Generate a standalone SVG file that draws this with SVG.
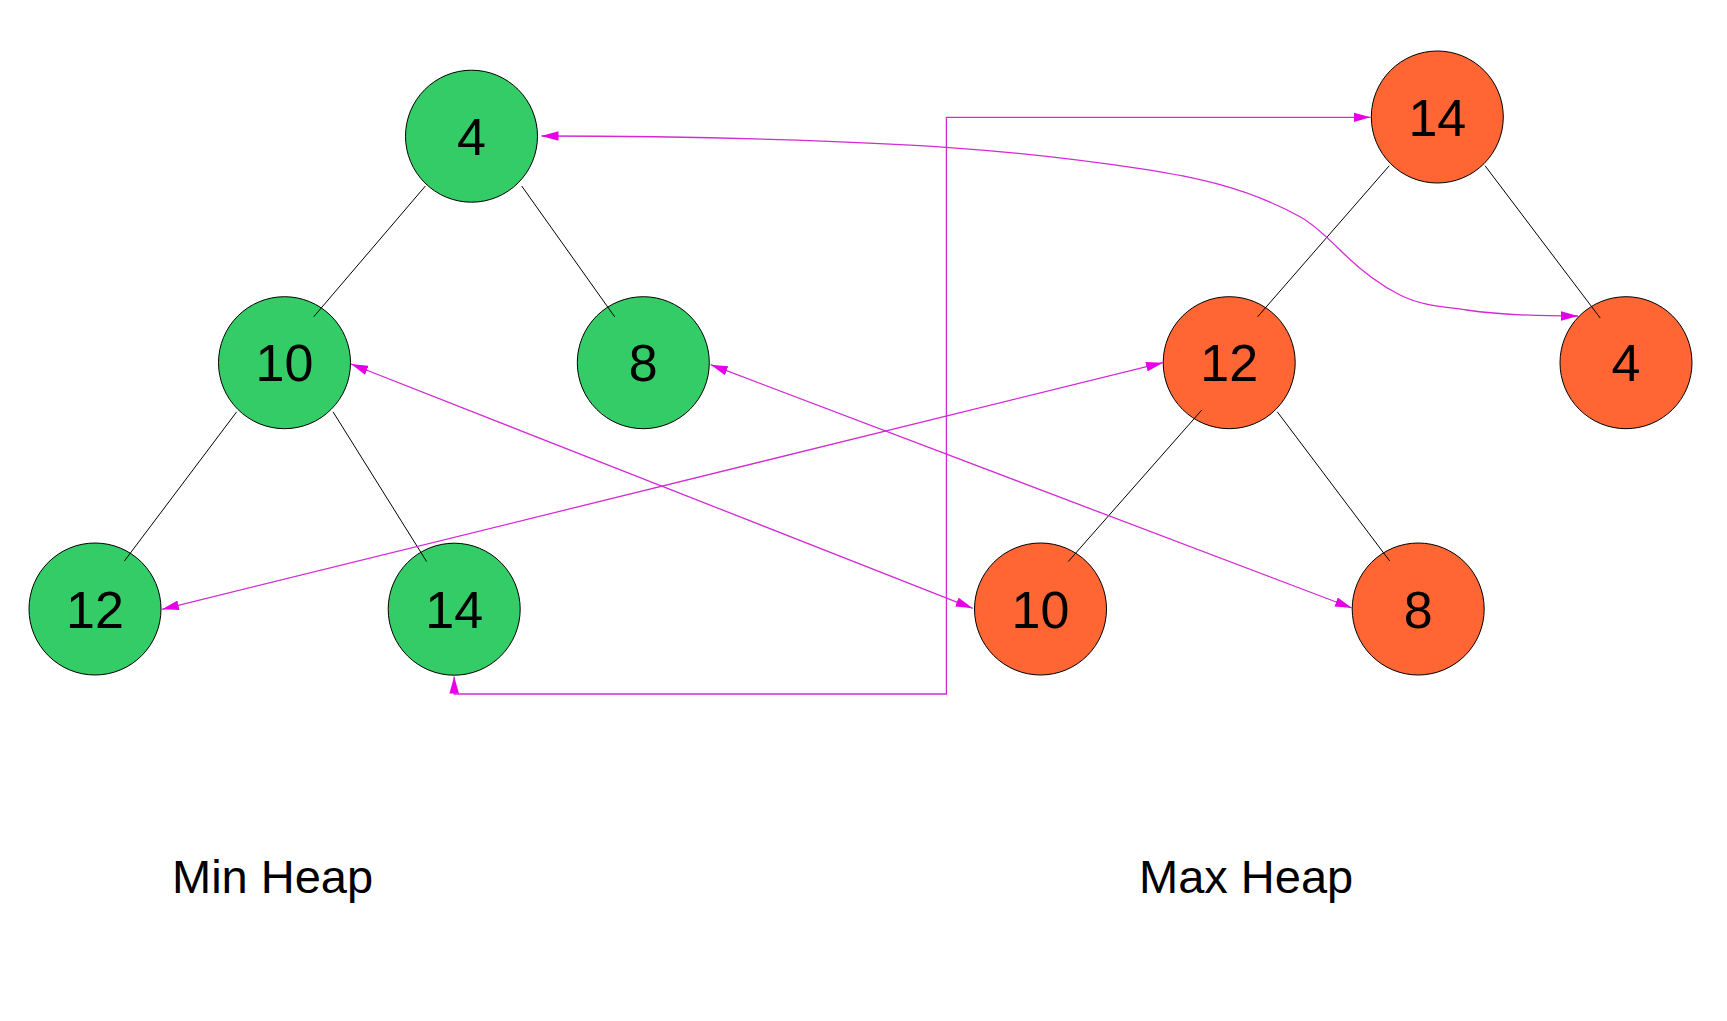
<svg xmlns="http://www.w3.org/2000/svg" width="1727" height="1021" viewBox="0 0 1727 1021">
<style>
.min{fill:#33cc66;stroke:#000;stroke-width:1}
.max{fill:#ff6633;stroke:#000;stroke-width:1}
.num{font-family:"Liberation Sans",Arial,sans-serif;font-size:52px;fill:#000;text-anchor:middle}
.lbl{font-family:"Liberation Sans",Arial,sans-serif;font-size:47px;fill:#000}
.edge{stroke:#000;stroke-width:1;fill:none}
.link{stroke:#d42ad4;stroke-width:1.3;fill:none;marker-start:url(#ah);marker-end:url(#ah)}
</style>
<defs>
<marker id="ah" markerUnits="userSpaceOnUse" markerWidth="17" markerHeight="10" refX="16" refY="4.5" orient="auto-start-reverse" viewBox="0 0 16 9">
<path d="M0,0 L16,4.5 L0,9 z" fill="#e600e6"/>
</marker>
</defs>
<rect width="1727" height="1021" fill="#fff"/>
<g id="min-heap">
<g id="min-4"><circle class="min" cx="471.5" cy="136.2" r="66"/><text class="num" x="471.5" y="154.5">4</text></g>
<g id="min-10"><circle class="min" cx="284.5" cy="362.7" r="66"/><text class="num" x="284.5" y="381">10</text></g>
<g id="min-8"><circle class="min" cx="643.3" cy="362.7" r="66"/><text class="num" x="643.3" y="381">8</text></g>
<g id="min-12"><circle class="min" cx="95" cy="609" r="66"/><text class="num" x="95" y="627.5">12</text></g>
<g id="min-14"><circle class="min" cx="454.2" cy="609.2" r="66"/><text class="num" x="454.2" y="627.7">14</text></g>
</g>
<g id="max-heap">
<g id="max-14"><circle class="max" cx="1437.3" cy="117" r="66"/><text class="num" x="1437.3" y="135.5">14</text></g>
<g id="max-12"><circle class="max" cx="1229.2" cy="362.7" r="66"/><text class="num" x="1229.2" y="381">12</text></g>
<g id="max-4"><circle class="max" cx="1626" cy="362.7" r="66"/><text class="num" x="1626" y="381">4</text></g>
<g id="max-10"><circle class="max" cx="1040.5" cy="609" r="66"/><text class="num" x="1040.5" y="627.5">10</text></g>
<g id="max-8"><circle class="max" cx="1418.2" cy="609" r="66"/><text class="num" x="1418.2" y="627.5">8</text></g>
</g>
<g id="connectors">
<line class="edge" x1="425.4" y1="186" x2="313.7" y2="316.8"/>
<line class="edge" x1="521.7" y1="186" x2="614.7" y2="316.8"/>
<line class="edge" x1="236.7" y1="411.8" x2="124.4" y2="561"/>
<line class="edge" x1="333" y1="411.8" x2="426.6" y2="561.5"/>
<line class="edge" x1="1389.3" y1="165.7" x2="1257.7" y2="316.7"/>
<line class="edge" x1="1485" y1="165.7" x2="1600.2" y2="318"/>
<line class="edge" x1="1201.8" y1="410" x2="1068.3" y2="561.5"/>
<line class="edge" x1="1277.3" y1="411.8" x2="1389.7" y2="561"/>
<path class="link" d="M541.5,136 C617.7,136 693.8,137 770,139.3 C828.7,141.1 887.3,143.2 946,147.3 C1010.7,151.8 1075.3,159 1140,168.7 C1193.3,176.7 1246.7,187.4 1300,216.7 C1313.3,224 1326.7,236.7 1340,250 C1360,270 1380,285 1400,295 C1422.2,306.1 1444.5,306.7 1466.7,310 C1503.8,315.6 1540.9,316 1578,316"/>
<path class="link" d="M351,364 L972.7,608.3"/>
<path class="link" d="M710.7,364.7 L1352,608"/>
<path class="link" d="M162,609.3 L1163,362.7"/>
<path class="link" d="M454.2,676.5 L454.2,694 L946.4,694 L946.4,117.3 L1370.5,117.3"/>
</g>
<g id="labels">
<text class="lbl" x="172" y="893">Min Heap</text>
<text class="lbl" x="1139" y="893">Max Heap</text>
</g>
</svg>
